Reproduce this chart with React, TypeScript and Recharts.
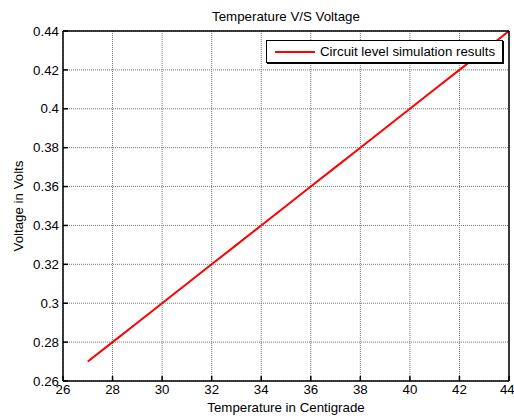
import React from 'react';
import { LineChart, Line, XAxis, YAxis, CartesianGrid } from 'recharts';

// temperature (C) vs measured voltage (V)
const temps = [27, 28, 29, 30, 31, 32, 33, 34, 35, 36, 37, 38, 39, 40, 41, 42, 43, 44];
const volts = [0.27, 0.28, 0.29, 0.3, 0.31, 0.32, 0.33, 0.34, 0.35, 0.36, 0.37, 0.38, 0.39, 0.4, 0.41, 0.42, 0.43, 0.44];

const xTicks = [26, 28, 30, 32, 34, 36, 38, 40, 42, 44];
const yTicks = [0.26, 0.28, 0.3, 0.32, 0.34, 0.36, 0.38, 0.4, 0.42, 0.44];

const seriesName = 'Circuit level simulation results';

const data = temps.map((t, i) => ({ temp: t, volt: volts[i] }));

const font = '"Liberation Sans", Arial, sans-serif';
const fs = 13.3;

function LegendBox() {
    return (
        <div
            style={{
                position: 'absolute',
                top: 40,
                left: 266,
                width: 237,
                height: 23,
                boxSizing: 'border-box',
                border: '1px solid #000',
                boxShadow: '1px 1px 0 #000',
                background: '#fff',
                display: 'flex',
                alignItems: 'center',
                paddingLeft: 8,
                fontFamily: font,
                fontSize: fs,
                color: '#000',
                whiteSpace: 'nowrap',
            }}
        >
            <span style={{ display: 'inline-block', width: 40, height: 2, background: '#ff0000', marginRight: 5 }} />
            {seriesName}
        </div>
    );
}

export default function App() {
    return (
        <div style={{ position: 'absolute', left: 0, top: 0, width: 514, height: 416, overflow: 'hidden', background: '#fff', fontFamily: font }}>
            <LineChart
                width={514}
                height={416}
                data={data}
                margin={{ top: 30, right: 4, left: 23, bottom: 15 }}
            >
                <CartesianGrid stroke="#777" strokeDasharray="1 1" />
                <XAxis
                    dataKey="temp"
                    type="number"
                    domain={[26, 44]}
                    ticks={xTicks}
                    allowDataOverflow
                    stroke="#000"
                    strokeWidth={1.5}
                    tickSize={-5}
                    tickMargin={9}
                    height={20}
                    tick={{ fill: '#000', fontSize: fs, fontFamily: font }}
                />
                <XAxis
                    xAxisId="top"
                    orientation="top"
                    dataKey="temp"
                    type="number"
                    domain={[26, 44]}
                    ticks={xTicks}
                    stroke="#000"
                    strokeWidth={1.5}
                    tickSize={-5}
                    tick={false}
                    height={1}
                />
                <YAxis
                    type="number"
                    domain={[0.26, 0.44]}
                    ticks={yTicks}
                    allowDataOverflow
                    stroke="#000"
                    strokeWidth={1.5}
                    tickSize={-5}
                    tickMargin={9}
                    width={40}
                    tick={{ fill: '#000', fontSize: fs, fontFamily: font }}
                />
                <YAxis
                    yAxisId="right"
                    orientation="right"
                    type="number"
                    domain={[0.26, 0.44]}
                    ticks={yTicks}
                    stroke="#000"
                    strokeWidth={1.5}
                    tickSize={-5}
                    tick={false}
                    width={1}
                />
                <Line
                    dataKey="volt"
                    name={seriesName}
                    type="linear"
                    stroke="#ff0000"
                    strokeWidth={2}
                    dot={false}
                    isAnimationActive={false}
                />
            </LineChart>
            <div style={{ position: 'absolute', top: 9, left: 63, width: 446, textAlign: 'center', fontSize: fs }}>
                Temperature V/S Voltage
            </div>
            <div
                style={{
                    position: 'absolute',
                    left: 18,
                    top: 206,
                    fontSize: fs,
                    transform: 'translate(-50%, -50%) rotate(-90deg)',
                    whiteSpace: 'nowrap',
                }}
            >
                Voltage in Volts
            </div>
            <div style={{ position: 'absolute', top: 400, left: 63, width: 446, textAlign: 'center', fontSize: fs, lineHeight: '15px' }}>
                Temperature in Centigrade
            </div>
            <LegendBox />
        </div>
    );
}
